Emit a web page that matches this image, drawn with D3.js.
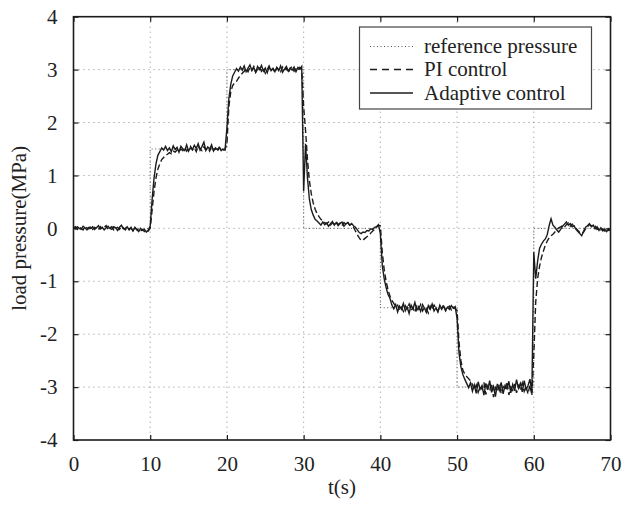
<!DOCTYPE html>
<html>
<head>
<meta charset="utf-8">
<script src="https://cdn.jsdelivr.net/npm/d3@7"></script>
<style>
  html, body { margin: 0; padding: 0; background: #fff; }
  svg { display: block; }
  text { font-family: "Liberation Serif", "Times New Roman", serif; fill: #222; }
</style>
</head>
<body>
<svg id="chart" width="632" height="505"></svg>
<script>
// ---------------- DATA ----------------
const xTicks = [0, 10, 20, 30, 40, 50, 60, 70];
const yTicks = [-4, -3, -2, -1, 0, 1, 2, 3, 4];
const seriesNames = ["reference pressure", "PI control", "Adaptive control"];
const xLabel = "t(s)";
const yLabel = "load pressure(MPa)";

// reference pressure (step profile)
const refTimes  = [0, 10, 10, 20, 20, 30, 30, 40, 40, 50, 50, 60, 60, 70];
const refValues = [0, 0, 1.5, 1.5, 3, 3, 0, 0, -1.5, -1.5, -3, -3, 0, 0];

const sampleStep = 0.25;

const piValues = [
  // 0 - 9.75
  0.01, 0.03, -0.02, 0.02, 0.00, -0.03, 0.03, 0.01, -0.01, 0.04, -0.02, 0.02, 0.00, -0.03, 0.03, -0.01, 0.02, 0.05, -0.02, 0.01,
  0.03, -0.03, 0.00, 0.02, -0.02, 0.04, 0.01, -0.03, 0.02, -0.01, 0.00, -0.04, 0.02, -0.03, -0.01, -0.05, -0.02, -0.06, -0.03, -0.05,
  // 10 - 19.75
  0.00, 0.35, 0.70, 0.95, 1.12, 1.22, 1.30, 1.34, 1.38, 1.40, 1.43, 1.41, 1.46, 1.44, 1.48, 1.45, 1.50, 1.47, 1.53, 1.46,
  1.51, 1.55, 1.48, 1.52, 1.45, 1.56, 1.50, 1.47, 1.54, 1.49, 1.52, 1.46, 1.55, 1.48, 1.51, 1.45, 1.53, 1.49, 1.47, 1.50,
  // 20 - 29.75
  1.60, 2.30, 2.58, 2.70, 2.75, 2.78, 2.84, 2.89, 2.93, 2.97, 3.02, 2.96, 3.04, 2.99, 3.06, 2.95, 3.01, 3.05, 2.97, 3.03,
  2.93, 3.00, 3.07, 2.98, 3.02, 2.95, 3.04, 3.00, 2.96, 3.05, 2.99, 3.03, 2.94, 3.02, 3.06, 2.97, 3.01, 2.98, 3.04, 3.00,
  // 30 - 39.75
  2.30, 1.85, 1.30, 0.90, 0.65, 0.48, 0.36, 0.28, 0.22, 0.17, 0.14, 0.11, 0.09, 0.12, 0.06, 0.10, 0.08, 0.13, 0.07, 0.10,
  0.05, 0.11, 0.08, 0.12, 0.06, 0.08, 0.02, -0.05, -0.12, -0.18, -0.23, -0.22, -0.19, -0.16, -0.12, -0.09, -0.05, -0.02, 0.02, 0.06,
  // 40 - 49.75
  0.05, -0.45, -0.78, -1.00, -1.16, -1.28, -1.36, -1.42, -1.48, -1.45, -1.54, -1.49, -1.57, -1.46, -1.52, -1.43, -1.55, -1.50, -1.59, -1.47,
  -1.53, -1.44, -1.56, -1.49, -1.52, -1.60, -1.47, -1.54, -1.45, -1.51, -1.57, -1.48, -1.53, -1.44, -1.56, -1.50, -1.47, -1.54, -1.49, -1.52,
  // 50 - 59.75
  -1.55, -2.15, -2.50, -2.68, -2.75, -2.80, -2.84, -2.88, -2.95, -3.05, -2.96, -3.10, -2.99, -3.04, -2.91, -3.14, -2.98, -3.07, -2.93, -3.19,
  -3.01, -3.08, -2.95, -3.12, -2.99, -3.05, -2.90, -3.15, -3.00, -3.06, -2.94, -3.11, -2.97, -3.03, -2.92, -3.08, -2.99, -3.13, -2.96, -3.16,
  // 60 - 70
  -2.40, -1.40, -0.95, -0.72, -0.55, -0.43, -0.32, -0.24, -0.18, -0.14, -0.11, -0.07, -0.03, 0.01, 0.03, 0.05, 0.02, 0.07, 0.10, 0.04,
  0.08, 0.03, 0.00, -0.04, -0.08, -0.11, -0.07, -0.01, 0.03, 0.07, 0.05, 0.02, 0.04, -0.02, 0.01, -0.03, -0.01, -0.05, -0.02, -0.04, -0.03
];

const adaptiveValues = [
  // 0 - 9.75
  0.02, -0.01, 0.03, 0.00, -0.02, 0.04, 0.01, -0.03, 0.02, 0.00, 0.03, -0.02, 0.01, 0.05, -0.01, 0.02, -0.03, 0.01, 0.04, 0.00,
  -0.02, 0.03, 0.01, -0.04, 0.02, 0.06, -0.01, 0.00, 0.03, -0.03, 0.02, -0.05, 0.01, -0.02, -0.06, 0.00, -0.04, -0.02, -0.07, -0.03,
  // 10 - 19.75
  0.05, 0.55, 0.95, 1.22, 1.38, 1.45, 1.52, 1.48, 1.55, 1.47, 1.52, 1.45, 1.56, 1.49, 1.53, 1.44, 1.55, 1.50, 1.47, 1.58,
  1.46, 1.53, 1.49, 1.57, 1.51, 1.60, 1.48, 1.55, 1.63, 1.47, 1.54, 1.50, 1.58, 1.46, 1.52, 1.49, 1.53, 1.47, 1.50, 1.48,
  // 20 - 29.75
  1.90, 2.45, 2.72, 2.88, 2.95, 3.02, 2.97, 3.05, 2.99, 3.07, 2.96, 3.03, 3.09, 2.98, 3.04, 2.95, 3.06, 3.00, 3.08, 2.97,
  3.03, 2.94, 3.05, 2.99, 3.02, 2.96, 3.04, 2.98, 3.07, 2.95, 3.01, 3.06, 2.97, 3.03, 2.99, 3.05, 2.96, 3.04, 3.01, 3.06,
  // 30 - 39.75
  0.70, 1.60, 0.95, 0.55, 0.35, 0.25, 0.17, 0.14, 0.10, 0.06, 0.12, 0.07, 0.10, 0.04, 0.09, 0.13, 0.06, 0.11, 0.05, 0.09,
  0.12, 0.04, 0.08, 0.11, 0.06, 0.09, 0.05, 0.02, -0.03, -0.08, -0.10, -0.07, -0.08, -0.04, -0.05, -0.01, -0.02, 0.02, 0.03, 0.07,
  // 40 - 49.75
  -0.10, -0.70, -0.95, -1.12, -1.25, -1.32, -1.45, -1.52, -1.44, -1.58, -1.47, -1.53, -1.42, -1.56, -1.49, -1.61, -1.45, -1.52, -1.40, -1.55,
  -1.48, -1.57, -1.44, -1.51, -1.59, -1.46, -1.53, -1.43, -1.56, -1.50, -1.58, -1.45, -1.52, -1.47, -1.55, -1.49, -1.53, -1.46, -1.51, -1.48,
  // 50 - 59.75
  -1.70, -2.35, -2.62, -2.76, -2.85, -2.93, -3.01, -2.92, -3.08, -2.96, -3.12, -2.90, -3.04, -2.97, -3.15, -2.93, -3.05, -2.88, -3.10, -2.99,
  -3.18, -2.94, -3.06, -2.91, -3.13, -2.97, -3.03, -2.89, -3.11, -2.95, -3.07, -2.86, -3.02, -2.93, -3.09, -2.88, -3.04, -2.97, -2.85, -3.10,
  // 60 - 70
  -0.45, -0.95, -0.62, -0.38, -0.30, -0.24, -0.20, -0.12, 0.05, 0.18, 0.06, 0.02, -0.03, -0.07, -0.02, 0.04, 0.08, 0.12, 0.06, 0.09,
  0.03, 0.05, -0.02, -0.06, -0.10, -0.14, -0.05, 0.02, 0.05, 0.09, 0.03, 0.06, -0.01, 0.03, -0.04, 0.01, -0.05, -0.02, -0.06, -0.01, -0.04
];

// ---------------- CHART ----------------
const plot = { left: 73.5, right: 610.5, top: 16.7, bottom: 440 };
const svg = d3.select("#chart");

const x = d3.scaleLinear().domain([0, 70]).range([plot.left, plot.right]);
const y = d3.scaleLinear().domain([-4, 4]).range([plot.bottom, plot.top]);

const ink = "#1c1c1c";
const fmt = d => String(d);   // plain hyphen for negatives, as in the original

// grid
const grid = svg.append("g").attr("class", "grid")
  .attr("stroke", "#8a8a8a").attr("stroke-width", 1).attr("stroke-dasharray", "1,4");
grid.selectAll("line.gx").data(xTicks.slice(1, -1)).join("line")
  .attr("x1", d => x(d)).attr("x2", d => x(d))
  .attr("y1", plot.top).attr("y2", plot.bottom);
grid.selectAll("line.gy").data(yTicks.slice(1, -1)).join("line")
  .attr("x1", plot.left).attr("x2", plot.right)
  .attr("y1", d => y(d)).attr("y2", d => y(d));

// series
const refData = refTimes.map((t, i) => [t, refValues[i]]);
const piData = piValues.map((v, i) => [i * sampleStep, v]);
const adData = adaptiveValues.map((v, i) => [i * sampleStep, v]);

const line = d3.line().x(d => x(d[0])).y(d => y(d[1]));

svg.append("path").datum(refData).attr("d", line)
  .attr("fill", "none").attr("stroke", "#555").attr("stroke-width", 1)
  .attr("stroke-dasharray", "1,2.5");
svg.append("path").datum(piData).attr("d", line)
  .attr("fill", "none").attr("stroke", ink).attr("stroke-width", 1.4)
  .attr("stroke-dasharray", "6,3");
svg.append("path").datum(adData).attr("d", line)
  .attr("fill", "none").attr("stroke", ink).attr("stroke-width", 1.4);

// axes (inward ticks on all sides)
const fontSize = 21;
const axB = svg.append("g").attr("transform", `translate(0,${plot.bottom})`)
  .call(d3.axisBottom(x).tickValues(xTicks).tickFormat(fmt).tickSizeInner(-5).tickSizeOuter(0).tickPadding(16));
const axL = svg.append("g").attr("transform", `translate(${plot.left},0)`)
  .call(d3.axisLeft(y).tickValues(yTicks).tickFormat(fmt).tickSizeInner(-5).tickSizeOuter(0).tickPadding(16));
const axT = svg.append("g").attr("transform", `translate(0,${plot.top})`)
  .call(d3.axisTop(x).tickValues(xTicks).tickSizeInner(-5).tickSizeOuter(0).tickFormat(""));
const axR = svg.append("g").attr("transform", `translate(${plot.right},0)`)
  .call(d3.axisRight(y).tickValues(yTicks).tickSizeInner(-5).tickSizeOuter(0).tickFormat(""));

[axB, axL, axT, axR].forEach(a => {
  a.select(".domain").remove();
  a.selectAll(".tick line").attr("stroke", ink).attr("stroke-width", 1.2);
  a.selectAll(".tick text")
    .attr("font-family", '"Liberation Serif", "Times New Roman", serif')
    .attr("font-size", fontSize).attr("fill", ink);
});

// frame
svg.append("rect")
  .attr("x", plot.left).attr("y", plot.top)
  .attr("width", plot.right - plot.left).attr("height", plot.bottom - plot.top)
  .attr("fill", "none").attr("stroke", ink).attr("stroke-width", 1.6);

// axis titles
svg.append("text").attr("x", (plot.left + plot.right) / 2).attr("y", 494)
  .attr("text-anchor", "middle").attr("font-size", fontSize).text(xLabel);
svg.append("text")
  .attr("transform", `translate(26,${(plot.top + plot.bottom) / 2}) rotate(-90)`)
  .attr("text-anchor", "middle").attr("font-size", fontSize).text(yLabel);

// legend
const lg = svg.append("g");
lg.append("rect").attr("x", 359.5).attr("y", 27).attr("width", 232).attr("height", 82)
  .attr("fill", "#fff").attr("stroke", "#444").attr("stroke-width", 1.2);
const legendStyles = [
  { dash: "1,2.5", color: "#555", width: 1 },
  { dash: "7,5", color: ink, width: 1.3 },
  { dash: null, color: ink, width: 1.3 }
];
const rowY = [46.5, 69.5, 93];
seriesNames.forEach((name, i) => {
  const st = legendStyles[i];
  lg.append("line").attr("x1", 370).attr("x2", 413).attr("y1", rowY[i]).attr("y2", rowY[i])
    .attr("stroke", st.color).attr("stroke-width", st.width)
    .attr("stroke-dasharray", st.dash);
  lg.append("text").attr("x", 424).attr("y", rowY[i] + 6.5)
    .attr("font-size", fontSize).text(name);
});
</script>
</body>
</html>
